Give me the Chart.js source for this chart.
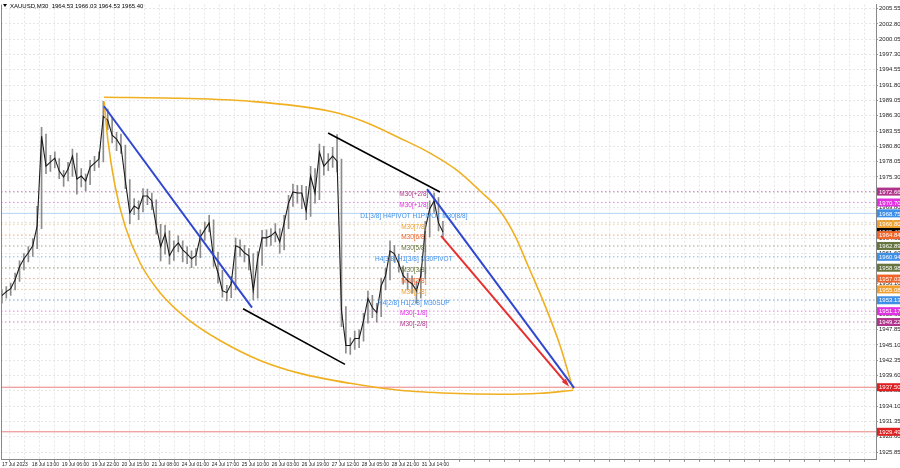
<!DOCTYPE html>
<html>
<head>
<meta charset="utf-8">
<script src="https://cdn.jsdelivr.net/npm/chart.js@4.4.0/dist/chart.umd.min.js"></script>
<style>
  html, body { margin: 0; padding: 0; background: #fff; }
  #wrap { width: 900px; height: 468px; }
</style>
</head>
<body>
<div id="wrap"><canvas id="myChart"></canvas></div>
<script>
// XAUUSD M30, one sample every 5 bars
const barStep = 5
const closes = [
  1953.96, 1954.68, 1955.22, 1956.83, 1959.16, 1960.59, 1961.67, 1962.92, 1966.50, 1982.62,
  1977.25, 1977.96, 1978.68, 1976.35, 1975.28, 1976.71, 1979.04, 1974.92, 1975.46, 1974.56,
  1977.07, 1977.78, 1978.50, 1986.20, 1985.49, 1982.80, 1982.08, 1980.83, 1974.56, 1968.83,
  1970.08, 1969.55, 1971.87, 1971.87, 1970.98, 1966.50, 1962.74, 1965.07, 1961.13, 1962.56,
  1963.45, 1962.20, 1961.48, 1960.59, 1961.13, 1964.53, 1965.78, 1967.04, 1960.59, 1958.08,
  1954.86, 1954.50, 1956.11, 1962.92, 1962.56, 1961.67, 1961.13, 1954.86, 1960.59, 1964.35,
  1964.35, 1964.71, 1965.43, 1963.63, 1967.04, 1970.62, 1972.59, 1972.41, 1972.41, 1969.19,
  1975.46, 1972.41, 1979.76, 1977.25, 1978.14, 1979.04, 1978.14, 1951.28, 1945.01, 1945.01,
  1946.26, 1946.26, 1949.49, 1953.43, 1951.82, 1950.92, 1955.75, 1957.54, 1962.02, 1961.49,
  1959.70, 1957.54, 1956.65, 1956.11, 1954.86, 1957.54, 1965.96, 1969.55, 1970.98, 1967.04,
  1965.40
]
const highs = [
  1955.0, 1955.6, 1956.2, 1958.0, 1960.2, 1961.5, 1962.8, 1964.2, 1970.0, 1984.2,
  1983.0, 1979.2, 1979.8, 1978.6, 1976.5, 1977.9, 1980.3, 1979.6, 1976.8, 1975.8,
  1978.3, 1979.0, 1979.8, 1988.9, 1987.5, 1985.9, 1983.3, 1983.0, 1981.0, 1974.8,
  1971.4, 1971.0, 1973.2, 1973.1, 1972.4, 1971.2, 1966.8, 1966.6, 1965.6, 1963.8,
  1964.7, 1963.8, 1962.8, 1962.0, 1962.4, 1965.8, 1967.2, 1968.4, 1967.6, 1961.8,
  1958.5, 1955.8, 1957.4, 1964.3, 1964.0, 1963.0, 1962.4, 1961.5, 1961.9, 1965.7,
  1965.8, 1966.0, 1966.9, 1966.0, 1968.4, 1972.0, 1974.0, 1973.8, 1973.8, 1973.6,
  1977.2, 1976.8, 1981.2, 1980.8, 1979.5, 1980.6, 1982.9, 1978.5, 1952.0, 1946.4,
  1947.6, 1947.8, 1950.8, 1954.8, 1954.0, 1952.6, 1957.1, 1958.9, 1963.8, 1963.0,
  1961.4, 1959.3, 1958.0, 1957.5, 1956.6, 1958.8, 1967.3, 1971.0, 1972.4, 1971.6,
  1967.3
]
const lows = [
  1952.6, 1953.5, 1954.0, 1955.0, 1956.5, 1958.6, 1960.0, 1961.0, 1962.4, 1966.0,
  1975.9, 1976.3, 1976.9, 1975.0, 1973.6, 1974.6, 1975.4, 1972.2, 1973.5, 1972.8,
  1973.9, 1976.4, 1977.0, 1978.0, 1983.8, 1981.4, 1980.0, 1979.5, 1973.2, 1966.9,
  1968.5, 1967.6, 1969.0, 1970.3, 1969.4, 1965.0, 1960.2, 1961.4, 1959.6, 1960.3,
  1961.8, 1960.0, 1959.7, 1959.0, 1959.4, 1960.8, 1963.9, 1965.4, 1959.2, 1956.2,
  1953.7, 1953.0, 1953.6, 1955.0, 1961.0, 1960.0, 1958.6, 1953.2, 1953.5, 1959.4,
  1962.8, 1963.0, 1963.6, 1961.6, 1962.2, 1966.0, 1970.0, 1970.6, 1969.6, 1967.6,
  1968.2, 1970.6, 1971.2, 1975.6, 1976.4, 1977.0, 1976.2, 1948.4, 1943.6, 1943.4,
  1944.3, 1944.6, 1945.8, 1949.0, 1950.0, 1949.2, 1950.2, 1955.0, 1956.8, 1960.0,
  1958.2, 1956.0, 1955.0, 1954.4, 1952.6, 1953.5, 1957.0, 1964.5, 1968.9, 1965.6,
  1964.5
]

const timeLabels = [
  '17 Jul 2023', '18 Jul 13:00', '19 Jul 06:00', '19 Jul 22:00', '20 Jul 15:00',
  '21 Jul 08:00', '24 Jul 01:00', '24 Jul 17:00', '25 Jul 10:00', '26 Jul 03:00',
  '26 Jul 19:00', '27 Jul 12:00', '28 Jul 05:00', '28 Jul 21:00', '31 Jul 14:00'
]
const barsPerLabel = 34

const priceTicks = [
  2005.55, 2002.80, 2000.05, 1997.30, 1994.55, 1991.80, 1989.05, 1986.30, 1983.55, 1980.80,
  1978.05, 1975.30, 1972.55, 1969.80, 1967.05, 1964.30, 1961.60, 1958.85, 1956.10, 1953.35,
  1950.60, 1947.85, 1945.10, 1942.35, 1939.60, 1936.85, 1934.10, 1931.35, 1928.60, 1925.85
]

// murrey levels
const levelValues = [1972.66, 1970.70, 1968.75, 1966.80, 1964.84, 1962.89, 1960.94, 1958.98, 1957.03, 1955.08, 1953.13, 1951.17, 1949.22]
const levelNames = [
  'M30[+2/8]', 'M30[+1/8]', 'D1[3/8] H4PIVOT H1PIVOT M30[8/8]', 'M30[7/8]', 'M30[6/8]',
  'M30[5/8]', 'H4[3/8] H1[3/8] M30PIVOT', 'M30[3/8]', 'M30[2/8]', 'M30[1/8]',
  'H4[2/8] H1[2/8] M30SUP', 'M30[-1/8]', 'M30[-2/8]'
]
const levelColors = [
  '#b0348c', '#e030e0', '#3d8fe8', '#f0a030', '#f06428', '#66753f', '#3d8fe8',
  '#66753f', '#f06428', '#f0a030', '#3d8fe8', '#e030e0', '#b0348c'
]
const redLevels = [1937.50, 1929.49]
const lastPrice = 1965.40

// drawn objects, [bar, price]
const blueLineA = [[115.8, 1988.0], [283.6, 1951.8]]
const blueLineB = [[482.0, 1973.1], [648.7, 1937.4]]
const blackLineA = [[273.4, 1951.6], [389.0, 1941.6]]
const blackLineB = [[369.8, 1983.2], [496.7, 1972.6]]
const redArrow = [[497.9, 1964.7], [641.0, 1938.0]]
const arcTop = [
  [115.8, 1989.61], [201.9, 1989.43], [281.3, 1988.89], [372.0, 1987.10], [409.4, 1985.31],
  [451.4, 1982.26], [485.4, 1979.58], [517.2, 1976.35], [542.1, 1972.77], [564.8, 1969.19],
  [581.8, 1964.71], [596.5, 1959.34], [615.8, 1952.17], [632.8, 1945.01], [647.5, 1937.13]
]
const arcBottom = [
  [115.8, 1988.89], [120.3, 1981.72], [128.3, 1973.67], [139.6, 1966.50], [156.6, 1959.87],
  [179.3, 1954.50], [209.9, 1949.84], [247.3, 1945.90], [292.7, 1942.32], [338.0, 1939.99],
  [394.7, 1938.20], [451.4, 1936.95], [508.1, 1936.41], [564.8, 1936.23], [610.1, 1936.41],
  [647.5, 1936.95]
]

const xMin = -1
const xMax = 991
const textBar = 467

Chart.defaults.font.family = "'Liberation Sans', Arial, sans-serif"

const pts = (arr) => arr.map(p => ({x: p[0], y: p[1]}))
const flat = (v) => [{x: xMin, y: v}, {x: xMax, y: v}]

const datasets = []
const seg = (data, color, width, extra) => Object.assign({
  type: 'line', data, borderColor: color, borderWidth: width,
  pointRadius: 0, fill: false, order: 1
}, extra || {})

datasets.push(seg(pts(redArrow), '#e53030', 2))
const redIndex = 0
datasets.push(seg(pts(blueLineA), '#3048d0', 2))
datasets.push(seg(pts(blueLineB), '#3048d0', 2))
datasets.push(seg(pts(blackLineA), '#000', 1.6))
datasets.push(seg(pts(blackLineB), '#000', 1.6))
datasets.push(seg(pts(arcTop), '#f0b020', 1.6, {cubicInterpolationMode: 'monotone'}))
datasets.push(seg(pts(arcBottom), '#f0b020', 1.6, {cubicInterpolationMode: 'monotone'}))

datasets.push(seg(closes.map((c, i) => ({x: i * barStep, y: c})), '#1a1a1a', 1.1, {order: 2}))
datasets.push({
  type: 'bar',
  data: closes.map((c, i) => ({x: i * barStep, y: [lows[i], highs[i]]})),
  backgroundColor: '#8c8c8c',
  barThickness: 1,
  order: 3
})

levelValues.forEach((v, i) => {
  const solid = i === 2
  datasets.push(seg(flat(v), solid ? '#b4d4f4' : levelColors[i] + '99', 1,
    {order: 4, borderDash: solid ? [] : [1.5, 2.5]}))
})
redLevels.forEach(v => datasets.push(seg(flat(v), '#ec8080', 1, {order: 4})))

const extrasPlugin = {
  id: 'extras',
  afterDatasetsDraw(chart) {
    const ctx = chart.ctx
    const xs = chart.scales.x
    const ys = chart.scales.y
    ctx.save()
    // level texts
    ctx.font = "6.5px 'Liberation Sans', Arial, sans-serif"
    ctx.textAlign = 'center'
    ctx.textBaseline = 'middle'
    levelValues.forEach((v, i) => {
      ctx.fillStyle = levelColors[i]
      ctx.fillText(levelNames[i], xs.getPixelForValue(textBar), ys.getPixelForValue(v) + 2.5)
    })
    // arrow head
    const meta = chart.getDatasetMeta(redIndex)
    const a = meta.data[0], b = meta.data[1]
    const ang = Math.atan2(b.y - a.y, b.x - a.x)
    ctx.fillStyle = '#e53030'
    ctx.beginPath()
    ctx.moveTo(b.x + 3 * Math.cos(ang), b.y + 3 * Math.sin(ang))
    ctx.lineTo(b.x - 6 * Math.cos(ang - 0.45), b.y - 6 * Math.sin(ang - 0.45))
    ctx.lineTo(b.x - 6 * Math.cos(ang + 0.45), b.y - 6 * Math.sin(ang + 0.45))
    ctx.closePath()
    ctx.fill()
    ctx.restore()
  },
  afterDraw(chart) {
    const ctx = chart.ctx
    const ys = chart.scales.y
    const area = chart.chartArea
    ctx.save()
    // left frame
    ctx.strokeStyle = '#888'
    ctx.lineWidth = 1
    ctx.beginPath()
    ctx.moveTo(area.left + 0.5, area.top)
    ctx.lineTo(area.left + 0.5, area.bottom)
    ctx.stroke()
    // price boxes on the axis
    const boxes = []
    levelValues.forEach((v, i) => boxes.push([v, levelColors[i]]))
    boxes.splice(4, 0, [lastPrice, '#000'])
    redLevels.forEach(v => boxes.push([v, '#e02020']))
    ctx.font = "6px 'Liberation Sans', Arial, sans-serif"
    ctx.textAlign = 'left'
    ctx.textBaseline = 'middle'
    boxes.forEach(([v, col]) => {
      const y = ys.getPixelForValue(v)
      ctx.fillStyle = col
      ctx.fillRect(area.right + 1, y - 4, 23, 8)
      ctx.fillStyle = '#fff'
      ctx.fillText(v.toFixed(2), area.right + 3, y + 0.5)
    })
    // title
    ctx.fillStyle = '#000'
    ctx.beginPath()
    ctx.moveTo(3, 4); ctx.lineTo(7, 4); ctx.lineTo(5, 7); ctx.closePath(); ctx.fill()
    ctx.fillText('XAUUSD,M30  1964.53 1966.03 1964.53 1965.40', 10, 6)
    ctx.restore()
  }
}

const ctx = document.getElementById('myChart').getContext('2d')
const myChart = new Chart(ctx, {
  type: 'line',
  data: {datasets},
  options: {
    responsive: true,
    maintainAspectRatio: false,
    animation: false,
    layout: {padding: {left: 1, top: 3, right: 0, bottom: 0}},
    plugins: {legend: {display: false}, tooltip: {enabled: false}},
    scales: {
      x: {
        type: 'linear',
        min: xMin,
        max: xMax,
        offset: false,
        afterBuildTicks: (scale) => {
          const t = []
          for (let v = 0; v <= xMax; v += barsPerLabel / 2) t.push({value: v})
          scale.ticks = t
        },
        afterFit: (scale) => { scale.height = 9 },
        ticks: {
          autoSkip: false,
          maxRotation: 0,
          align: 'start',
          padding: 0,
          color: '#222',
          font: {size: 5},
          callback: (v) => {
            const n = v / barsPerLabel
            return Number.isInteger(n) && n < timeLabels.length ? timeLabels[n] : ''
          }
        },
        grid: {color: '#e6e6e6', tickLength: 3, tickColor: '#999'},
        border: {color: '#888', dash: [2, 2]}
      },
      y: {
        position: 'right',
        min: 1924.6,
        max: 2006.27,
        afterBuildTicks: (scale) => { scale.ticks = priceTicks.map(v => ({value: v})) },
        afterFit: (scale) => { scale.width = 24 },
        ticks: {
          autoSkip: false,
          padding: 1,
          color: '#222',
          font: {size: 6},
          callback: (v) => v.toFixed(2)
        },
        grid: {color: '#e6e6e6', tickLength: 2, tickColor: '#999'},
        border: {color: '#888', dash: [2, 2]}
      }
    }
  },
  plugins: [extrasPlugin]
})
</script>
</body>
</html>
